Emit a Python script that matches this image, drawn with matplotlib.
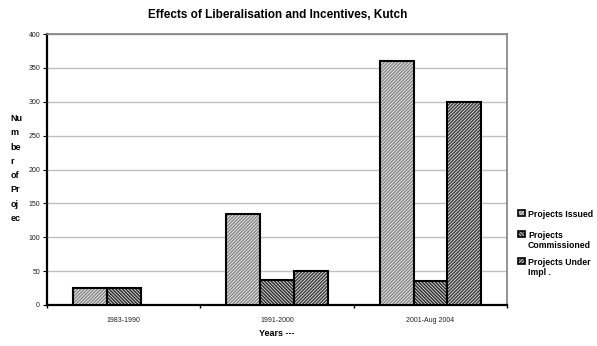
import numpy as np
import matplotlib
matplotlib.use("Agg")
import matplotlib.pyplot as plt
from matplotlib.patches import Rectangle

plt.rcParams["font.family"] = ["Liberation Sans", "DejaVu Sans"]
plt.rcParams["hatch.linewidth"] = 1.2

# 数据
periods = ["1983-1990", "1991-2000", "2001-Aug 2004"]
series = ["Projects Issued", "Projects\nCommissioned", "Projects Under\nImpl ."]
issued = [25, 135, 360]
commissioned = [25, 37, 35]
under_impl = [0, 50, 300]
values = [issued, commissioned, under_impl]

# 样式：填充纹理、纹理颜色
hatches = ["/" * 10, "\\" * 10, "/" * 10]
hatch_colors = ["#8c8c8c", "#333333", "#444444"]

fig = plt.figure(figsize=(5.97, 3.46), dpi=100)
ax = fig.add_axes([0.0787, 0.1185, 0.771, 0.783])

x = np.arange(len(periods))
w = 0.22
for i, vals in enumerate(values):
    pos = x + (i - 1) * w
    v = np.array(vals, dtype=float)
    keep = v > 0
    # 先画纹理，再画黑边框
    ax.bar(pos[keep], v[keep], w, color="white", hatch=hatches[i],
           edgecolor=hatch_colors[i], linewidth=0, zorder=3)
    ax.bar(pos[keep], v[keep], w, fill=False, edgecolor="black",
           linewidth=1.5, zorder=4)

ax.set_xlim(-0.5, 2.5)
ax.set_ylim(0, 400)
ax.set_yticks(range(0, 401, 50))
ax.yaxis.grid(True, color="#c0c0c0", linewidth=1)
ax.set_axisbelow(True)

# x 轴：分隔刻度 + 类别标签
ax.set_xticks([-0.5, 0.5, 1.5, 2.5])
ax.set_xticklabels([])
ax.set_xticks(x, minor=True)
ax.set_xticklabels(periods, minor=True, fontsize=5, color="#222222")
ax.tick_params(axis="x", which="major", length=2.5, width=1, direction="out")
ax.tick_params(axis="x", which="minor", length=0, pad=9)
ax.tick_params(axis="y", length=3, width=0.8, labelsize=5, pad=2, labelcolor="#222222")

for s in ["left", "bottom"]:
    ax.spines[s].set_linewidth(1.6)
    ax.spines[s].set_color("black")
for s in ["top", "right"]:
    ax.spines[s].set_linewidth(1.2)
    ax.spines[s].set_color("#808080")

fig.text(0.465, 0.958, "Effects of Liberalisation and Incentives, Kutch",
         ha="center", va="center", fontsize=8.5, fontweight="bold")
fig.text(0.463, 0.037, "Years ---", ha="center", va="center",
         fontsize=6.5, fontweight="bold")
fig.text(0.017, 0.513, "Nu\nm\nbe\nr\nof\nPr\noj\nec", ha="left", va="center",
         fontsize=6.5, fontweight="bold", linespacing=1.75)

# 图例（手工放置）
leg_y = [212, 233, 260]
for i, lab in enumerate(series):
    y0 = 1 - leg_y[i] / 346
    r = Rectangle((518 / 597, y0 - 0.012), 7 / 597, 6 / 346, transform=fig.transFigure,
                  facecolor="white", hatch=hatches[i], edgecolor=hatch_colors[i],
                  linewidth=0)
    fig.add_artist(r)
    fig.add_artist(Rectangle((518 / 597, y0 - 0.012), 7 / 597, 6 / 346,
                             transform=fig.transFigure, fill=False,
                             edgecolor="black", linewidth=1.2))
    fig.text(528 / 597, y0 + 0.007, lab, ha="left", va="top", fontsize=6.3,
             fontweight="bold", linespacing=1.15)

plt.savefig("out.png", dpi=100)
